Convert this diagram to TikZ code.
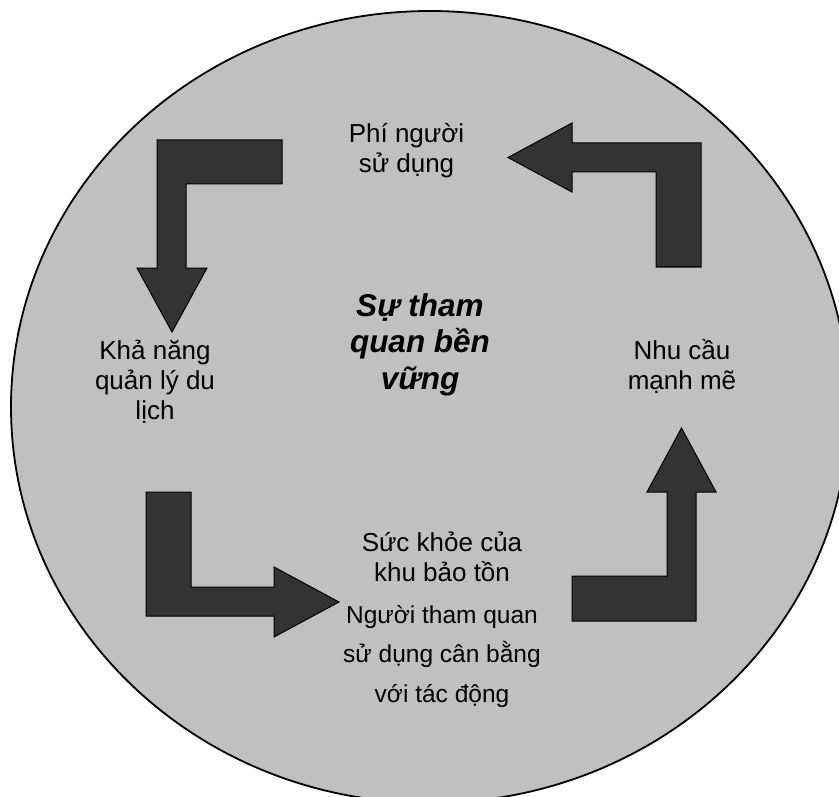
\documentclass[tikz,border=0pt]{standalone}
\usepackage{fontspec}
\setmainfont{Liberation Sans}
\definecolor{discgray}{HTML}{C0C0C0}
\definecolor{arrowdark}{HTML}{333333}
\tikzset{
  bentarrow/.style={fill=arrowdark, draw=black, line width=1pt, line join=miter},
  lbl/.style={align=center, anchor=base, inner sep=0pt, font=\fontsize{26}{30}\selectfont},
  lblsmall/.style={align=center, anchor=base, inner sep=0pt, font=\fontsize{24.5}{39.5}\selectfont},
  lblmain/.style={align=center, anchor=base, inner sep=0pt, font=\fontsize{31.5}{36.5}\selectfont\bfseries\itshape}
}
\begin{document}
\begin{tikzpicture}[x=1pt,y=-1pt]
\useasboundingbox (0,0) rectangle (839,797);
\clip (0,0) rectangle (839,797);
% disc
\draw[fill=discgray, line width=1.8pt] (430,407) ellipse [x radius=419pt, y radius=396pt];
% bent arrows
\draw[bentarrow] (157,140) -- (282,140) -- (282,184) -- (186,184) -- (186,268) -- (207,268) -- (172,332) -- (137,268) -- (157,268) -- cycle;
\draw[bentarrow] (701,143) -- (701,267) -- (656,267) -- (656,172) -- (572,172) -- (572,192) -- (508,157.5) -- (572,123) -- (572,143) -- cycle;
\draw[bentarrow] (146,492) -- (191,492) -- (191,587) -- (274,587) -- (274,567) -- (339,602) -- (274,637) -- (274,616) -- (146,616) -- cycle;
\draw[bentarrow] (572,576) -- (667,576) -- (667,492) -- (647,492) -- (681.5,428) -- (716,492) -- (696,492) -- (696,621) -- (572,621) -- cycle;
% labels (anchor = baseline of the last line)
\node[lbl] (fee) at (406.5,173) {Phí người\\sử dụng};
\node[lbl] (mgmt) at (155,419) {Khả năng\\quản lý du\\lịch};
\node[lblmain] (core) at (420,389) {Sự tham\\quan bền\\vững};
\node[lbl] (demand) at (682,389) {Nhu cầu\\mạnh mẽ};
\node[lbl] (health) at (442,581) {Sức khỏe của\\khu bảo tồn};
\node[lblsmall] (balance) at (442,702) {Người tham quan\\sử dụng cân bằng\\với tác động};
\end{tikzpicture}
\end{document}
